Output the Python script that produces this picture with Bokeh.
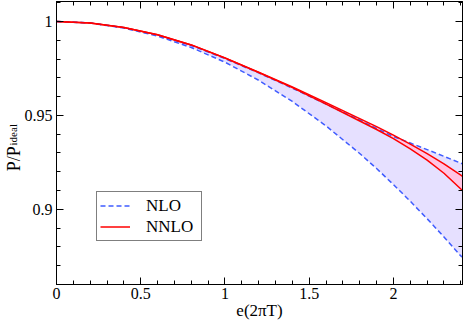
import numpy as np
from bokeh.plotting import figure
from bokeh.models import (Range1d, LinearAxis, FixedTicker, Label, Legend, LegendItem)
from bokeh.embed import file_html
from bokeh.resources import INLINE

# ---- data ----
x_vals = [0.0, 0.2, 0.4, 0.6, 0.8, 1.0, 1.2, 1.4, 1.6, 1.8, 1.9, 2.0, 2.1, 2.2, 2.3, 2.4, 2.41]
nlo_low = [1.0, 0.9991, 0.9965, 0.9922, 0.9861, 0.9783, 0.9687, 0.9574, 0.9444,
           0.9297, 0.9217, 0.9132, 0.9043, 0.8950, 0.8853, 0.8752, 0.8745]
nlo_high = [1.0, 0.9992, 0.9967, 0.9927, 0.9872, 0.9802, 0.9726, 0.9645, 0.9560,
            0.9475, 0.9430, 0.9388, 0.9353, 0.9318, 0.9282, 0.9246, 0.9243]
nnlo_high = [1.0, 0.9992, 0.9968, 0.9929, 0.9875, 0.9806, 0.9730, 0.9652, 0.9568,
             0.9483, 0.9440, 0.9395, 0.9347, 0.9296, 0.9242, 0.9182, 0.9176]
nnlo_low = [1.0, 0.9992, 0.9968, 0.9929, 0.9875, 0.9805, 0.9728, 0.9648, 0.9560,
            0.9470, 0.9425, 0.9376, 0.9322, 0.9262, 0.9192, 0.9108, 0.9099]

x_ticks = [0, 0.5, 1, 1.5, 2]
x_tick_labels = ["0", "0.5", "1", "1.5", "2"]
y_ticks = [0.9, 0.95, 1.0]
y_tick_labels = ["0.9", "0.95", "1"]
series_names = ["NLO", "NNLO"]
x_label = "e(2\u03c0T)"
y_label_main = "P/P"
y_label_sub = "ideal"

FONT = "Liberation Serif"
BLUE = "#3f5cff"
RED = "#ff0000"
NBSP = "\u00a0"
X0, X1 = 0.0, 2.41
Y0, Y1 = 0.86, 1.0106

p = figure(width=463, height=320, output_backend="svg", toolbar_location=None,
           x_range=Range1d(X0, X1), y_range=Range1d(Y0, Y1),
           min_border_left=56, min_border_right=1, min_border_top=1,
           min_border_bottom=35)
p.background_fill_color = "white"
p.border_fill_color = "white"
p.grid.visible = False
p.outline_line_color = "black"
p.outline_line_width = 1

x_minor = list(np.round(np.arange(0, 2.41, 0.1), 3))
y_minor = list(np.round(np.arange(0.86, 1.011, 0.01), 3))

def style_axis(ax, ticks, minor, labels, show):
    ax.ticker = FixedTicker(ticks=ticks, minor_ticks=minor)
    ax.major_tick_in = 7
    ax.major_tick_out = 0
    ax.minor_tick_in = 4
    ax.minor_tick_out = 0
    ax.axis_line_color = "black"
    ax.major_tick_line_color = "black"
    ax.minor_tick_line_color = "black"
    if show:
        ax.major_label_overrides = {t: l for t, l in zip(ticks, labels)}
        ax.major_label_text_font = FONT
        ax.major_label_text_font_size = "16px"
        ax.major_label_text_color = "black"
    else:
        ax.major_label_overrides = {t: "" for t in ticks}
        ax.major_label_standoff = 0

style_axis(p.xaxis[0], x_ticks, x_minor, x_tick_labels, True)
style_axis(p.yaxis[0], y_ticks, y_minor, y_tick_labels, True)
p.xaxis[0].major_label_standoff = 3
p.yaxis[0].major_label_standoff = 4

# subscript "ideal" as the label of the main y axis (shifted up with padding)
ay = p.yaxis[0]
ay.axis_label = NBSP * 6 + y_label_sub
ay.axis_label_text_font = FONT
ay.axis_label_text_font_style = "normal"
ay.axis_label_text_font_size = "11px"
ay.axis_label_text_color = "black"
ay.axis_label_standoff = 3

# "P/P" on an outer, tick-less left axis, pulled inwards
ay2 = LinearAxis(ticker=FixedTicker(ticks=[]), axis_line_color=None,
                 major_tick_in=0, major_tick_out=0, minor_tick_in=0, minor_tick_out=0,
                 major_label_standoff=0)
ay2.axis_label = y_label_main + NBSP * 7
ay2.axis_label_text_font = FONT
ay2.axis_label_text_font_style = "normal"
ay2.axis_label_text_font_size = "18px"
ay2.axis_label_text_color = "black"
ay2.axis_label_standoff = -20
p.add_layout(ay2, "left")

top_ax = LinearAxis()
style_axis(top_ax, x_ticks, x_minor, x_tick_labels, False)
p.add_layout(top_ax, "above")
right_ax = LinearAxis()
style_axis(right_ax, y_ticks, y_minor, y_tick_labels, False)
p.add_layout(right_ax, "right")

# bands
p.varea(x=x_vals, y1=nlo_low, y2=nlo_high, fill_color="#e6e0ff")
p.varea(x=x_vals, y1=nnlo_low, y2=nnlo_high, fill_color="#ffc4e4")

# lines
r_nlo = p.line(x_vals, nlo_low, line_color=BLUE, line_width=1.5, line_dash="5 3")
p.line(x_vals, nlo_high, line_color=BLUE, line_width=1.5, line_dash="5 3")
r_nnlo = p.line(x_vals, nnlo_high, line_color=RED, line_width=1.5)
p.line(x_vals, nnlo_low, line_color=RED, line_width=1.5)

legend = Legend(items=[LegendItem(label=series_names[0], renderers=[r_nlo]),
                       LegendItem(label=series_names[1], renderers=[r_nnlo])],
                location=(40, 43), orientation="vertical")
legend.label_text_font = FONT
legend.label_text_font_size = "17px"
legend.label_text_color = "black"
legend.border_line_color = "black"
legend.border_line_width = 1
legend.background_fill_color = "white"
legend.background_fill_alpha = 1
legend.padding = 3
legend.spacing = 0
legend.margin = 0
legend.glyph_width = 30
legend.glyph_height = 21
legend.label_height = 21
legend.label_width = 52
legend.label_standoff = 16
p.add_layout(legend, "center")

# x axis label (side panel, so it is not clipped to the frame)
p.add_layout(Label(x=(X0 + X1) / 2, y=Y0, y_offset=-26, text=x_label,
                   text_font=FONT, text_font_size="17px", text_color="black",
                   text_align="center", text_baseline="alphabetic"), "below")

open("out.html", "w").write(file_html(p, INLINE))
